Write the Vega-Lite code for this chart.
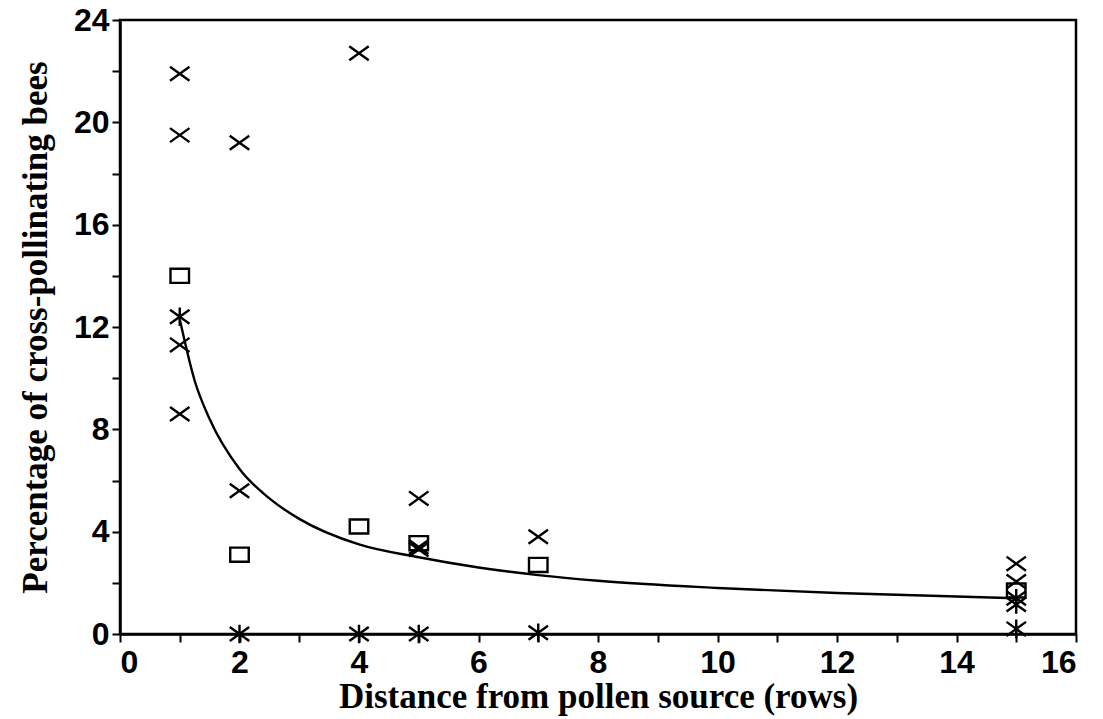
{
  "$schema": "https://vega.github.io/schema/vega-lite/v6.json",
  "width": 956,
  "height": 614,
  "autosize": {"type": "none"},
  "padding": {"left": 120, "top": 20, "right": 27, "bottom": 85},
  "background": "white",
  "config": {
    "view": {"stroke": "black", "strokeWidth": 2.5},
    "axis": {
      "domainColor": "black",
      "domainWidth": 2.5,
      "tickColor": "black",
      "tickWidth": 2,
      "tickSize": 8,
      "grid": false,
      "labelFont": "Liberation Sans",
      "labelFontWeight": "bold",
      "labelFontSize": 32,
      "labelColor": "black",
      "titleFont": "Liberation Serif",
      "titleFontWeight": "bold",
      "titleFontSize": 35,
      "titleColor": "black"
    }
  },
  "datasets": {
    "observations": [
      {"rows": 1, "pct": 21.9, "marker": "x"},
      {"rows": 1, "pct": 19.5, "marker": "x"},
      {"rows": 1, "pct": 11.3, "marker": "x"},
      {"rows": 1, "pct": 8.6, "marker": "x"},
      {"rows": 2, "pct": 19.2, "marker": "x"},
      {"rows": 2, "pct": 5.6, "marker": "x"},
      {"rows": 4, "pct": 22.7, "marker": "x"},
      {"rows": 5, "pct": 5.3, "marker": "x"},
      {"rows": 5, "pct": 3.3, "marker": "x"},
      {"rows": 5, "pct": 3.4, "marker": "x"},
      {"rows": 7, "pct": 3.8, "marker": "x"},
      {"rows": 15, "pct": 2.75, "marker": "x"},
      {"rows": 15, "pct": 2.05, "marker": "x"},
      {"rows": 1, "pct": 12.4, "marker": "star"},
      {"rows": 2, "pct": 0, "marker": "star"},
      {"rows": 4, "pct": 0, "marker": "star"},
      {"rows": 5, "pct": 0, "marker": "star"},
      {"rows": 7, "pct": 0.05, "marker": "star"},
      {"rows": 15, "pct": 1.4, "marker": "star"},
      {"rows": 15, "pct": 1.15, "marker": "star"},
      {"rows": 15, "pct": 0.2, "marker": "star"},
      {"rows": 1, "pct": 14.0, "marker": "box"},
      {"rows": 2, "pct": 3.1, "marker": "box"},
      {"rows": 4, "pct": 4.2, "marker": "box"},
      {"rows": 5, "pct": 3.55, "marker": "box"},
      {"rows": 7, "pct": 2.7, "marker": "box"},
      {"rows": 15, "pct": 1.7, "marker": "box"}
    ],
    "fit": [
      {"rows": 1, "pct": 12.3},
      {"rows": 1.25, "pct": 9.9},
      {"rows": 1.5, "pct": 8.4},
      {"rows": 2, "pct": 6.45},
      {"rows": 2.5, "pct": 5.3},
      {"rows": 3, "pct": 4.5},
      {"rows": 4, "pct": 3.5},
      {"rows": 5, "pct": 3.0},
      {"rows": 6, "pct": 2.6},
      {"rows": 7, "pct": 2.3},
      {"rows": 8, "pct": 2.08},
      {"rows": 10, "pct": 1.8},
      {"rows": 12, "pct": 1.6},
      {"rows": 15, "pct": 1.4}
    ]
  },
  "layer": [
    {
      "data": {"name": "fit"},
      "mark": {"type": "line", "color": "black", "strokeWidth": 2.4, "interpolate": "monotone"},
      "encoding": {
        "x": {
          "field": "rows",
          "type": "quantitative",
          "scale": {"domain": [0, 16], "nice": false},
          "axis": {
            "title": "Distance from pollen source (rows)",
            "values": [0, 1, 2, 3, 4, 5, 6, 7, 8, 9, 10, 11, 12, 13, 14, 15, 16],
            "format": "d",
            "labelExpr": "datum.value % 2 === 0 ? datum.label : ''",
            "labelPadding": 5,
            "titlePadding": 1
          }
        },
        "y": {
          "field": "pct",
          "type": "quantitative",
          "scale": {"domain": [0, 24], "nice": false},
          "axis": {
            "title": "Percentage of cross-pollinating bees",
            "values": [0, 2, 4, 6, 8, 10, 12, 14, 16, 18, 20, 22, 24],
            "format": "d",
            "labelExpr": "datum.value % 4 === 0 ? datum.label : ''",
            "labelPadding": 3,
            "titlePadding": 20
          }
        }
      }
    },
    {
      "data": {"name": "observations"},
      "mark": {"type": "point", "filled": false, "color": "black", "strokeWidth": 2.4, "size": 380, "opacity": 1},
      "encoding": {
        "x": {"field": "rows", "type": "quantitative"},
        "y": {"field": "pct", "type": "quantitative"},
        "shape": {
          "field": "marker",
          "type": "nominal",
          "scale": {
            "domain": ["x", "star", "box"],
            "range": [
              "M-1,-0.72L1,0.72M-1,0.72L1,-0.72",
              "M-1,-0.72L1,0.72M-1,0.72L1,-0.72M0,-0.95L0,0.95",
              "M-0.95,-0.72L0.95,-0.72L0.95,0.72L-0.95,0.72Z"
            ]
          },
          "legend": null
        }
      }
    }
  ]
}
